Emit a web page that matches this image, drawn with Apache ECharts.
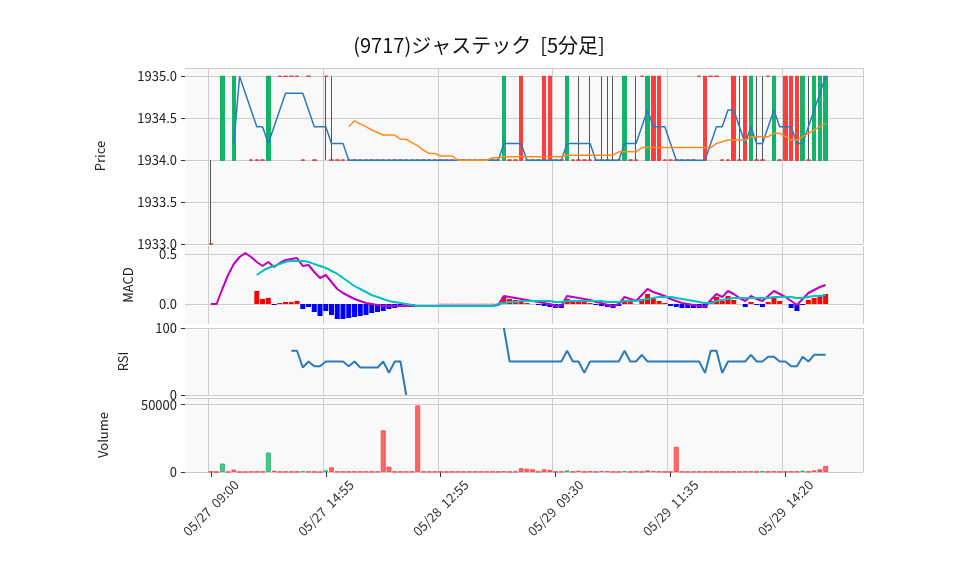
<!DOCTYPE html>
<html><head><meta charset="utf-8">
<script src="https://cdn.jsdelivr.net/npm/echarts@6/dist/echarts.min.js"></script>
<style>html,body{margin:0;padding:0;background:#fff}#c{width:958px;height:575px}</style>
</head><body><div id="c"></div>
<script>
// Tick labels (data index -> label)
const tickIdx = [0, 20, 40, 60, 80, 100];
const tickLabels = ['05/27  09:00','05/27  14:55','05/28  12:55','05/29  09:30','05/29  11:35','05/29  14:20'];
const N = 108;
// Candles [open, close, low, high] (null = no trade)
const U=[1934,1935,1934,1935], D=[1935,1934,1934,1935], L=[1934,1934,1934,1934], H=[1935,1935,1935,1935], G=[1934,1934,1934,1935];
const candles = [
 [1933,1933,1933,1934], null, D, null, D, null, null, L, L, L,
 D, null, H, H, H, H, L, H, L, null,
 [1935,1935,1934,1935], G, L, L, L, L, L, L, L, L,
 L, L, L, L, L, L, L, L, L, L,
 L, L, L, L, L, L, L, L, L, L,
 L, D, L, L, U, L, L, L, U, U,
 L, L, D, L, G, L, G, L, G, G,
 G, L, D, L, G, H, D, U, U, L,
 L, L, L, L, L, H, U, H, H, L,
 L, U, G, U, D, G, G, H, D, L,
 U, U, U, D, G, D, D, D
];
const ma5 = [null,null,null,null,1934.2,1935.0,1934.8,1934.6,1934.4,1934.4,
 1934.2,1934.4,1934.6,1934.8,1934.8,1934.8,1934.8,1934.6,1934.4,1934.4,
 1934.4,1934.2,1934.2,1934.2,1934,1934,1934,1934,1934,1934,
 1934,1934,1934,1934,1934,1934,1934,1934,1934,1934,
 1934,1934,1934,1934,1934,1934,1934,1934,1934,1934,
 1934,1934.2,1934.2,1934.2,1934.2,1934,1934,1934,1934,1934,
 1934,1934,1934.2,1934.2,1934.2,1934.2,1934.2,1934,1934,1934,
 1934,1934,1934.2,1934.2,1934.2,1934.4,1934.6,1934.4,1934.4,1934.4,
 1934.2,1934,1934,1934,1934,1934,1934,1934.2,1934.4,1934.4,
 1934.6,1934.6,1934.4,1934.2,1934.4,1934.2,1934.2,1934.4,1934.6,1934.4,
 1934.4,1934.4,1934.2,1934.2,1934.4,1934.6,1934.8,1935.0];
const ma25 = [null,null,null,null,null,null,null,null,null,null,
 null,null,null,null,null,null,null,null,null,null,
 null,null,null,null,1934.40,1934.47,1934.43,1934.40,1934.36,1934.33,
 1934.30,1934.30,1934.30,1934.25,1934.25,1934.21,1934.17,1934.12,1934.08,1934.08,
 1934.05,1934.05,1934.05,1934.0,1934.0,1934.0,1934.0,1934.0,1934.0,1934.03,
 1934.03,1934.04,1934.04,1934.04,1934.04,1934.04,1934.04,1934.04,1934.04,1934.04,
 1934.04,1934.04,1934.06,1934.06,1934.06,1934.06,1934.06,1934.06,1934.06,1934.06,
 1934.06,1934.1,1934.1,1934.1,1934.1,1934.15,1934.15,1934.15,1934.15,1934.15,
 1934.15,1934.15,1934.15,1934.15,1934.15,1934.15,1934.15,1934.15,1934.2,1934.22,
 1934.24,1934.24,1934.24,1934.24,1934.28,1934.28,1934.28,1934.28,1934.32,1934.32,
 1934.28,1934.24,1934.24,1934.28,1934.32,1934.36,1934.40,1934.44];
const macd = [0,0,0.15,0.29,0.40,0.47,0.51,0.47,0.42,0.38,
 0.42,0.37,0.41,0.44,0.45,0.46,0.38,0.39,0.32,0.26,
 0.29,0.22,0.15,0.11,0.08,0.05,0.03,0.01,0,-0.01,
 -0.02,-0.02,-0.02,-0.02,-0.02,-0.02,-0.02,-0.02,-0.02,-0.02,
 -0.018,-0.018,-0.018,-0.018,-0.018,-0.018,-0.018,-0.018,-0.018,-0.018,
 -0.01,0.08,0.07,0.06,0.05,0.04,0.03,0.02,0.01,0.0,
 -0.02,-0.02,0.08,0.07,0.06,0.05,0.04,0.02,0.01,-0.01,
 -0.02,0.0,0.07,0.05,0.03,0.09,0.15,0.12,0.10,0.08,
 0.05,0.03,0.01,0.0,-0.01,-0.02,-0.03,0.04,0.10,0.07,
 0.13,0.10,0.06,0.03,0.08,0.05,0.03,0.08,0.13,0.10,
 0.07,0.03,-0.01,0.05,0.11,0.14,0.17,0.19];
const signal = [null,null,null,null,null,null,null,null,0.29,0.33,
 0.36,0.38,0.40,0.42,0.43,0.43,0.43,0.42,0.40,0.38,
 0.36,0.33,0.30,0.26,0.22,0.18,0.15,0.12,0.09,0.07,
 0.05,0.03,0.02,0.01,0.0,-0.01,-0.02,-0.02,-0.02,-0.02,
 -0.02,-0.02,-0.02,-0.02,-0.02,-0.02,-0.02,-0.02,-0.02,-0.02,
 0.0,0.01,0.02,0.02,0.03,0.03,0.03,0.03,0.03,0.03,
 0.02,0.02,0.03,0.03,0.03,0.03,0.03,0.03,0.03,0.02,
 0.02,0.02,0.03,0.03,0.03,0.04,0.05,0.06,0.07,0.07,
 0.07,0.06,0.05,0.04,0.03,0.02,0.01,0.01,0.03,0.04,
 0.05,0.06,0.06,0.06,0.06,0.06,0.06,0.06,0.07,0.07,
 0.07,0.07,0.06,0.06,0.07,0.08,0.08,0.09];
const rsi = [null,null,null,null,null,null,null,null,null,null,
 null,null,null,null,66,66,41,50,43,43,
 50,50,50,50,43,50,41,41,41,41,
 50,33,50,50,0,null,null,null,null,null,
 null,null,null,null,null,null,null,null,null,null,
 null,100,50,50,50,50,50,50,50,50,
 50,50,66,50,50,33,50,50,50,50,
 50,50,66,50,50,60,50,50,50,50,
 50,50,50,50,50,50,33,66,66,33,
 50,50,50,50,60,50,50,57,57,50,
 50,43,43,57,50,60,60,60];
const volume = [300,0,6300,0,1800,0,0,200,200,200,
 14500,1000,200,200,200,200,600,200,200,0,
 1200,3500,200,200,200,200,200,200,200,200,
 31000,4000,200,200,200,200,49500,200,200,200,
 200,200,200,200,200,200,200,200,200,200,
 200,400,200,200,2800,2500,2000,200,2000,1500,
 200,200,1200,200,1000,200,500,200,800,600,
 200,200,700,200,400,200,1200,600,400,200,
 200,18700,200,200,200,200,300,200,200,200,
 200,300,200,300,400,200,500,200,400,200,
 300,300,300,1000,300,1200,2000,4500];
const downVolIdx = [2,10,16,20,62,72,96,103];

const PADL = 4, PADR = 6, TOT = PADL + N + PADR;
const pad = (a, f) => Array(PADL).fill(f).concat(a, Array(PADR).fill(f));
const cats = Array.from({length:TOT},(_, k)=>{const t=tickIdx.indexOf(k-PADL);return t>=0?tickLabels[t]:'c'+k;});
const isTick = k => tickIdx.includes(k-PADL);

const wick = pad(candles.map(c=>c?[c[0],c[1],c[2],c[3]]:'-'),'-');
const body = pad(candles.map(c=>c?[c[0],c[1],Math.min(c[0],c[1]),Math.max(c[0],c[1])]:'-'),'-');
const hist = pad(macd.map((m,i)=>signal[i]==null?'-':{value:+(m-signal[i]).toFixed(3),itemStyle:{color:m-signal[i]>=0?'#ff0000':'#0000ff'}}),'-');
const vol = pad(volume.map((v,i)=>{const up=!downVolIdx.includes(i);return {value:v,itemStyle:{color:up?'#ff6868':'#4cc78e',borderColor:up?'#ff4d4d':'#2fb878',borderWidth:1}};}),'-');

const FONT='Noto Sans CJK JP';
const gridBase={left:185,right:95,show:true,backgroundColor:'#f9f9f9',borderWidth:0};
const grids=[
 Object.assign({top:68,height:176},gridBase),
 Object.assign({top:246,height:78},gridBase),
 Object.assign({top:328,height:67},gridBase),
 Object.assign({top:398,height:74},gridBase)];
const xAxes=grids.map((g,gi)=>({type:'category',gridIndex:gi,data:cats,boundaryGap:true,
 axisLine:{show:false},axisTick:{show:gi===3,interval:(k)=>isTick(k),alignWithLabel:true,length:5,lineStyle:{color:'#333'}},
 axisLabel:{show:gi===3,interval:(k)=>isTick(k),rotate:45,align:'center',verticalAlign:'middle',fontSize:13,color:'#333',fontFamily:FONT,margin:36},
 splitLine:{show:true,interval:(k)=>isTick(k),lineStyle:{color:'#cccccc'}}}));
const yCommon={axisLine:{show:false},axisTick:{show:true,length:4,lineStyle:{color:'#333'}},nameLocation:'middle',nameRotate:90,
 nameTextStyle:{fontSize:13,color:'#222',fontFamily:FONT},axisLabel:{fontSize:13,color:'#222',fontFamily:FONT},splitLine:{lineStyle:{color:'#cccccc'}}};
const yAxes=[
 Object.assign({},yCommon,{gridIndex:0,min:1933,max:1935.1,interval:0.5,name:'Price',nameGap:78,axisLabel:Object.assign({},yCommon.axisLabel,{formatter:v=>v.toFixed(1)})}),
 Object.assign({},yCommon,{gridIndex:1,min:-0.2,max:0.58,interval:0.1,name:'MACD',nameGap:50,
   axisTick:{show:false},
   axisLabel:Object.assign({},yCommon.axisLabel,{formatter:v=>Math.abs(v)<1e-9?'0.0':(Math.abs(v-0.5)<1e-9?'0.5':'')}),
   splitLine:{lineStyle:{color:['transparent','transparent','#cccccc','transparent','transparent']}}}),
 Object.assign({},yCommon,{gridIndex:2,min:0,max:100,interval:100,name:'RSI',nameGap:55}),
 Object.assign({},yCommon,{gridIndex:3,min:0,max:55000,interval:50000,name:'Volume',nameGap:75,axisLabel:Object.assign({},yCommon.axisLabel,{formatter:v=>String(v)})})];

const chart=echarts.init(document.getElementById('c'));
chart.setOption({
 animation:false,
 title:{text:'(9717)ジャステック  [5分足]',left:'center',top:30,textStyle:{fontSize:20,fontWeight:'normal',color:'#111',fontFamily:FONT}},
 grid:grids,xAxis:xAxes,yAxis:yAxes,
 series:[
  {type:'candlestick',xAxisIndex:0,yAxisIndex:0,data:wick,barWidth:4,itemStyle:{color:'#555',color0:'#555',borderColor:'#555',borderColor0:'#555',borderColorDoji:'#555',borderWidth:1}},
  {type:'candlestick',xAxisIndex:0,yAxisIndex:0,data:body,barWidth:4,itemStyle:{color:'#ff3d3d',color0:'#12b46a',borderColor:'#ff3d3d',borderColor0:'#12b46a',borderColorDoji:'#ff3d3d',borderWidth:1}},
  {type:'line',xAxisIndex:0,yAxisIndex:0,data:pad(ma5,null),symbol:'none',lineStyle:{color:'#2b7bb9',width:1.5}},
  {type:'line',xAxisIndex:0,yAxisIndex:0,data:pad(ma25,null),symbol:'none',lineStyle:{color:'#ff8c1a',width:1.5}},
  {type:'bar',xAxisIndex:1,yAxisIndex:1,data:hist,barWidth:5},
  {type:'line',xAxisIndex:1,yAxisIndex:1,data:pad(macd,null),symbol:'none',lineStyle:{color:'#c000c0',width:2}},
  {type:'line',xAxisIndex:1,yAxisIndex:1,data:pad(signal,null),symbol:'none',smooth:true,lineStyle:{color:'#00c0c0',width:2}},
  {type:'line',xAxisIndex:2,yAxisIndex:2,data:pad(rsi,null),symbol:'none',lineStyle:{color:'#2b7bb9',width:2}},
  {type:'bar',xAxisIndex:3,yAxisIndex:3,data:vol,barWidth:5}
 ]
});
</script></body></html>
